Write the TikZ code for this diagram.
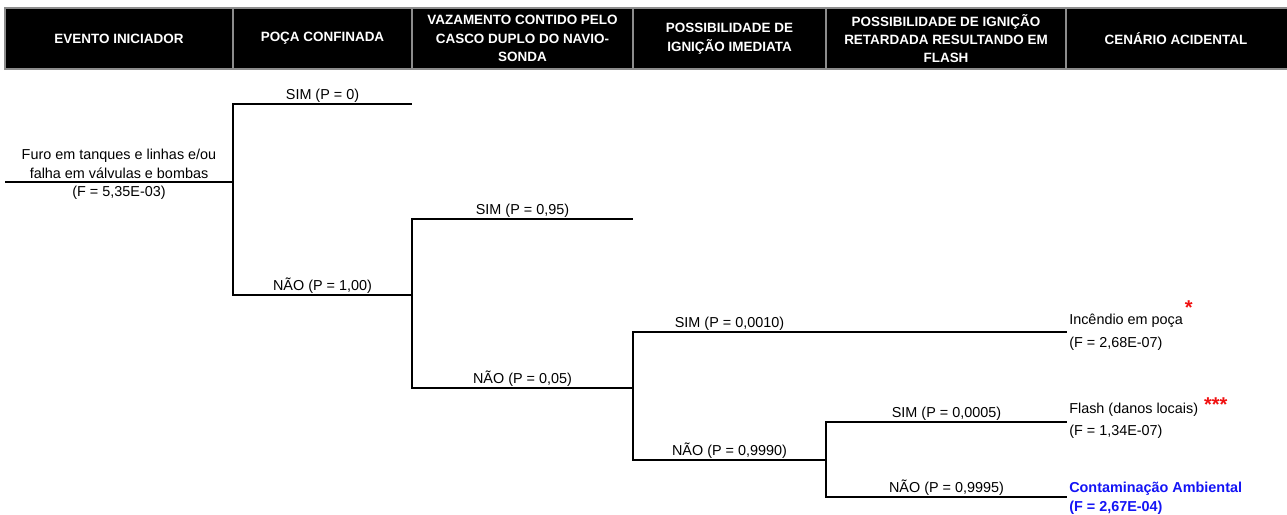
\documentclass[tikz,border=0pt]{standalone}
\usepackage{fontspec}
\setmainfont{Liberation Sans}
\usetikzlibrary{positioning,calc}
\definecolor{ink}{HTML}{000000}
\definecolor{rule}{HTML}{8C8C8C}
\definecolor{bluetxt}{HTML}{1414F5}
\definecolor{redstar}{HTML}{F01010}
\tikzset{
  head/.style={text=white, font=\fontsize{10.1}{13.8}\selectfont\bfseries, align=center, inner sep=0pt},
  branch/.style={draw=ink, line width=1.5pt},
  prob/.style={font=\fontsize{10.8}{13}\selectfont, anchor=base, inner sep=0pt},
  event/.style={font=\fontsize{10.8}{14}\selectfont, align=center, inner sep=1pt},
  outcome/.style={font=\fontsize{10.8}{13}\selectfont, anchor=base west, inner sep=0pt},
  bigoutcome/.style={outcome, font=\fontsize{10.8}{13}\selectfont\bfseries, text=bluetxt},
  stars/.style={font=\fontsize{15}{15}\selectfont\bfseries, text=redstar, anchor=base west, inner sep=0pt}
}

\begin{document}
\begin{tikzpicture}[x=0.75pt, y=-0.75pt]
\useasboundingbox (0,0) rectangle (1287,514);
% header band
\fill[black] (5,8) rectangle (1290,69);
\draw[rule, line width=1.5pt] (1290,8) -- (5,8) -- (5,69) -- (1290,69);
\foreach \sx in {233,412,633,826,1066} \draw[rule, line width=1.5pt] (\sx,8) -- (\sx,69);
\node[head] (h1) at (119,38.5) {EVENTO INICIADOR};
\node[head] (h2) at (322.5,38.5) {POÇA CONFINADA};
\node[head] (h3) at (522.5,38.5) {VAZAMENTO CONTIDO PELO\\CASCO DUPLO DO NAVIO-\\SONDA};
\node[head] (h4) at (729.5,38.5) {POSSIBILIDADE DE\\IGNIÇÃO IMEDIATA};
\node[head] (h5) at (946,38.5) {POSSIBILIDADE DE IGNIÇÃO\\RETARDADA RESULTANDO EM\\FLASH};
\node[head] (h6) at (1176,38.5) {CENÁRIO ACIDENTAL};

% tree points
\coordinate (start) at (5,182);
\coordinate (j1) at (233,182);
\coordinate (s1) at (412,104);
\coordinate (j2) at (412,295);
\coordinate (s2) at (633,219);
\coordinate (j3) at (633,388);
\coordinate (s3) at (1067,332);
\coordinate (j4) at (826,460);
\coordinate (s4) at (1067,422);
\coordinate (n4) at (1067,497);
\draw[branch] (start) -- (j1);
\draw[branch] (j1) |- (s1); \draw[branch] (j1) |- (j2);
\draw[branch] (j2) |- (s2); \draw[branch] (j2) |- (j3);
\draw[branch] (j3) |- (s3); \draw[branch] (j3) |- (j4);
\draw[branch] (j4) |- (s4); \draw[branch] (j4) |- (n4);

% initiating event
\node[event, anchor=south] (ev) at (119,180) {Furo em tanques e linhas e/ou\\falha em válvulas e bombas};
\node[event, anchor=north] (evf) at (119,184) {(F = 5,35E-03)};

% branch probabilities
\node[prob] (p1) at (322.5,99) {SIM (P = 0)};
\node[prob] (p2) at (322.5,290) {NÃO (P = 1,00)};
\node[prob] (p3) at (522.5,214) {SIM (P = 0,95)};
\node[prob] (p4) at (522.5,383) {NÃO (P = 0,05)};
\node[prob] (p5) at (729.5,327) {SIM (P = 0,0010)};
\node[prob] (p6) at (729.5,455) {NÃO (P = 0,9990)};
\node[prob] (p7) at (946.5,417) {SIM (P = 0,0005)};
\node[prob] (p8) at (946.5,492) {NÃO (P = 0,9995)};

% scenarios
\node[outcome] (o1) at (1069,324) {Incêndio em poça};
\node[outcome] (o1f) at (1069,347) {(F = 2,68E-07)};
\node[stars, right=1pt of o1.base east, anchor=base west, yshift=7pt] (st1) {*};
\node[outcome] (o2) at (1069,413) {Flash (danos locais)};
\node[outcome] (o2f) at (1069,435) {(F = 1,34E-07)};
\node[stars, right=4pt of o2.base east, anchor=base west, yshift=1.5pt] (st2) {***};
\node[bigoutcome] (o3) at (1069,492) {Contaminação Ambiental};
\node[bigoutcome] (o3f) at (1069,511) {(F = 2,67E-04)};
\end{tikzpicture}
\end{document}
